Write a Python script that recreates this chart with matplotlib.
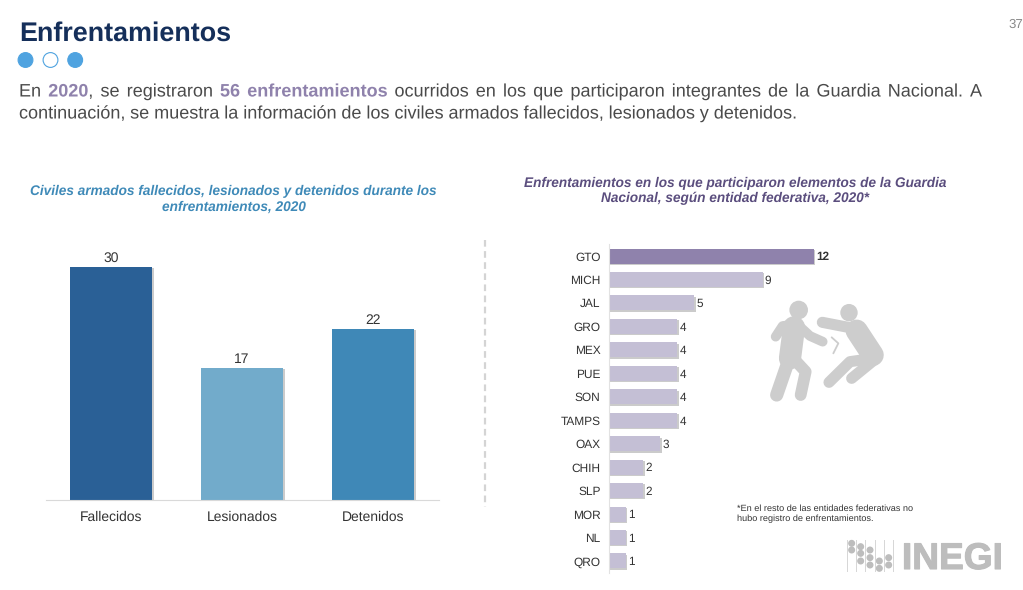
import matplotlib
matplotlib.use("Agg")
import matplotlib.pyplot as plt
import matplotlib.patheffects as pe
from matplotlib.patches import Circle

plt.rcParams["font.family"] = "Liberation Sans"
plt.rcParams["text.hinting"] = "no_hinting"

# left chart
civil_labels = ["Fallecidos", "Lesionados", "Detenidos"]
civil_values = [30, 17, 22]
civil_colors = ["#2A6096", "#72ABCB", "#3F88B7"]

# right chart
states = ["GTO", "MICH", "JAL", "GRO", "MEX", "PUE", "SON", "TAMPS", "OAX", "CHIH", "SLP", "MOR", "NL", "QRO"]
state_values = [12, 9, 5, 4, 4, 4, 4, 4, 3, 2, 2, 1, 1, 1]

W, H = 1023, 590
NAVY = "#152F5A"
GREY = "#4A4A4A"
PURPLE = "#8F82AC"
ICON = "#CDCDCD"
BODY_SIZE = 13

fig = plt.figure(figsize=(W / 100, H / 100), dpi=100, facecolor="white")


def px_axes(left, top, right, bottom):
    return fig.add_axes([left / W, 1 - bottom / H, (right - left) / W, (bottom - top) / H])


# overlay in pixel coordinates for the slide furniture
bg = fig.add_axes([0, 0, 1, 1], zorder=0)
bg.set_xlim(0, W)
bg.set_ylim(H, 0)
bg.axis("off")

bg.text(19, 33.5, "Enfrentamientos", fontsize=19.4, fontweight="bold", color=NAVY, va="center")
bg.text(1016, 24.5, "37", fontsize=9.5, color="#8A8A8A", ha="center", va="center")

for x, filled in zip([25.5, 50.5, 75.2], [True, False, True]):
    bg.add_patch(Circle((x, 60), 7.4, facecolor="#4FA3E0" if filled else "white",
                        edgecolor="#4FA3E0", linewidth=0.8))


def draw_line(runs, y, x0, x1=None):
    # runs are (text, bold) pairs, spread word by word up to x1 when it is given
    # path effect keeps every word on the same baseline, plain text snaps per word
    renderer = fig.canvas.get_renderer()
    items = []
    total = 0
    for word, bold, joined in runs:
        t = bg.text(x0, y, word, fontsize=BODY_SIZE, va="baseline",
                    fontweight="bold" if bold else "normal",
                    color=PURPLE if bold else GREY,
                    path_effects=[pe.Normal()])
        w = t.get_window_extent(renderer).width
        items.append((t, w, joined))
        total += w
    gaps = sum(1 for item in items[1:] if not item[2])
    if x1 is None:
        gap = BODY_SIZE * 100 / 72 * 0.278
    else:
        gap = (x1 - x0 - total) / gaps
    x = x0
    for t, w, joined in items:
        if joined:
            x -= gap
        t.set_x(x)
        x += w + gap


def words(text, bold=False):
    return [(w, bold, False) for w in text.split()]


draw_line(words("En") + words("2020", True) + [(",", False, True)] + words("se registraron")
          + words("56 enfrentamientos", True)
          + words("ocurridos en los que participaron integrantes de la Guardia Nacional. A"),
          96.5, 19, 982)
draw_line(words("continuación, se muestra la información de los civiles armados fallecidos, lesionados y detenidos."),
          118.5, 19)

bg.text(233.5, 199, "Civiles armados fallecidos, lesionados y detenidos durante los\nenfrentamientos, 2020",
        fontsize=9.8, fontweight="bold", fontstyle="italic", color="#3F8AB8",
        ha="center", va="center", linespacing=1.25)
bg.text(735, 191, "Enfrentamientos en los que participaron elementos de la Guardia\nNacional, según entidad federativa, 2020*",
        fontsize=9.8, fontweight="bold", fontstyle="italic", color="#5B4E7E",
        ha="center", va="center", linespacing=1.25)

bg.plot([485, 485], [240, 507], color="#D4D4D4", linewidth=1.6, linestyle=(0, (3, 2)))

# left bar chart
ax1 = px_axes(46, 240, 439, 500)
ax1.patch.set_alpha(0)
bars = ax1.bar(range(3), civil_values, width=0.63, color=civil_colors)
for bar in bars:
    bar.set_path_effects([pe.SimplePatchShadow(offset=(1, -1), shadow_rgbFace="#999999", alpha=0.5), pe.Normal()])
for i, v in enumerate(civil_values):
    ax1.text(i, v + 0.25, str(v), ha="center", va="bottom", fontsize=10, color="#333333")
ax1.set_xlim(-0.496, 2.504)
ax1.set_ylim(0, 33.46)
ax1.set_xticks(range(3), civil_labels)
ax1.set_yticks([])
ax1.tick_params(axis="x", length=0, labelsize=10, labelcolor="#333333", pad=8)
for side in ["top", "left", "right"]:
    ax1.spines[side].set_visible(False)
ax1.spines["bottom"].set_color("#D9D9D9")

# right bar chart
ax2 = px_axes(609, 244.3, 860, 572.7)
ax2.patch.set_alpha(0)
colors2 = ["#8F82AC"] + ["#C4BFD5"] * (len(states) - 1)
bars2 = ax2.barh(range(len(states)), state_values, height=0.64, color=colors2)
for bar in bars2:
    bar.set_path_effects([pe.SimplePatchShadow(offset=(1, -1), shadow_rgbFace="#999999", alpha=0.5), pe.Normal()])
for i, v in enumerate(state_values):
    ax2.text(v + 0.12, i, str(v), va="center_baseline", fontsize=8.5, color="#333333",
             fontweight="bold" if i == 0 else "normal")
ax2.set_xlim(0, 251 / 17.08)
ax2.set_ylim(len(states) - 0.5, -0.5)
ax2.set_yticks(range(len(states)), states, va="center_baseline")
ax2.set_xticks([])
ax2.tick_params(axis="y", length=0, labelsize=8.6, labelcolor="#333333", pad=6)
for side in ["top", "bottom", "right"]:
    ax2.spines[side].set_visible(False)
ax2.spines["left"].set_color("#E2E2E2")


# fighters icon, zoom coordinates of the crop at (740, 290)
def icon_line(pts, lw):
    xs = [740 + p[0] / 3 for p in pts]
    ys = [290 + p[1] / 3 for p in pts]
    bg.plot(xs, ys, color=ICON, linewidth=lw, solid_capstyle="round", solid_joinstyle="round", zorder=3)


bg.add_patch(Circle((740 + 176 / 3, 290 + 60 / 3), 8.6, color=ICON, zorder=3))
bg.add_patch(Circle((740 + 327 / 3, 290 + 68 / 3), 8.0, color=ICON, zorder=3))
icon_line([(107, 140), (128, 108), (172, 103), (210, 138), (248, 155)], 7)
icon_line([(162, 112), (150, 205)], 16)
icon_line([(148, 205), (110, 315)], 9.5)
icon_line([(160, 205), (197, 245), (182, 315)], 8.5)
icon_line([(247, 97), (340, 115)], 8)
icon_line([(350, 122), (398, 195)], 16)
icon_line([(400, 205), (330, 215), (267, 277)], 8)
icon_line([(400, 212), (335, 265)], 8)
icon_line([(275, 142), (295, 160), (280, 190)], 1.3)

bg.text(737, 513.5, "*En el resto de las entidades federativas no\nhubo registro de enfrentamientos.",
        fontsize=6.55, color="#333333", va="center", linespacing=1.2)

# INEGI logo
for x in [380, 408, 436, 464, 492, 520]:
    bg.plot([720 + x / 3] * 2, [540, 571], color="#D6D6D6", linewidth=0.7)
logo_dots = {395: [160, 180], 422: [170, 190, 213], 450: [180, 203, 225], 478: [213, 235], 506: [203, 225]}
for x, ys in logo_dots.items():
    for y in ys:
        bg.add_patch(Circle((720 + x / 3, 490 + y / 3), 2.8, color="#BDBDBD"))
bg.text(952.5, 569, "INEGI", fontsize=26.7, fontweight="bold", color="#BDBDBD", ha="center", va="baseline",
        path_effects=[pe.withStroke(linewidth=0.8, foreground="#BDBDBD")])

fig.savefig("out.png", dpi=100)
